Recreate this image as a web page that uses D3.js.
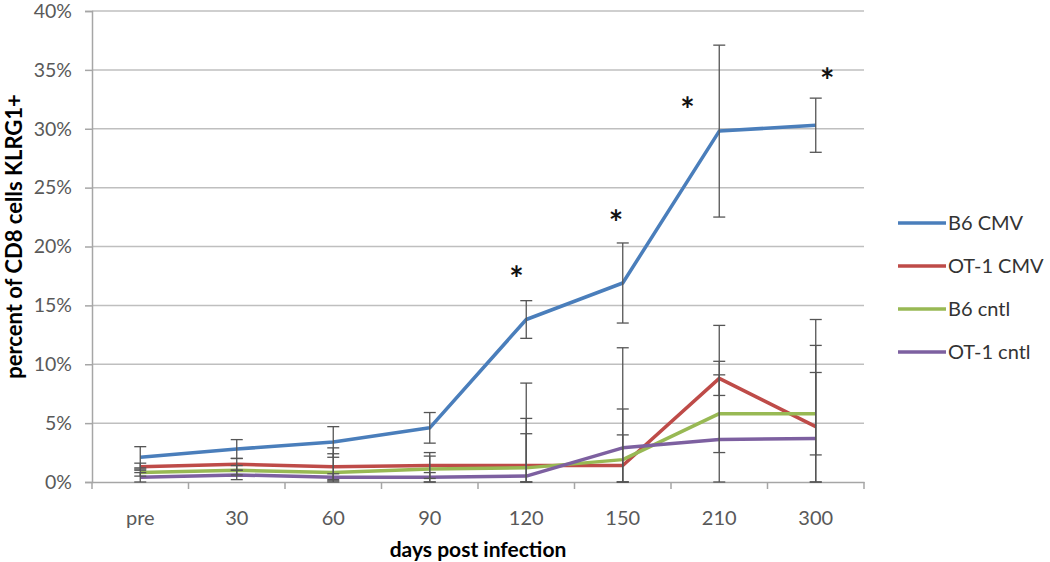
<!DOCTYPE html>
<html>
<head>
<meta charset="utf-8">
<script src="https://cdn.jsdelivr.net/npm/d3@7"></script>
<style>
  html, body { margin: 0; padding: 0; background: #fff; }
  svg { display: block; }
  text { font-family: Lato, "Open Sans", sans-serif; }
</style>
</head>
<body>
<svg id="chart" width="1050" height="562"></svg>
<script>
// ---- data ----
const categories = ["pre", "30", "60", "90", "120", "150", "210", "300"];
const seriesNames = ["B6 CMV", "OT-1 CMV", "B6 cntl", "OT-1 cntl"];
const seriesColors = ["#4A7EBB", "#BE4B48", "#98B954", "#7D60A0"];

const b6Cmv    = [2.1, 2.8, 3.4, 4.6, 13.8, 16.9, 29.8, 30.3];
const ot1Cmv   = [1.3, 1.5, 1.3, 1.4, 1.4, 1.4, 8.8, 4.7];
const b6Cntl   = [0.8, 1.0, 0.8, 1.1, 1.2, 1.9, 5.8, 5.8];
const ot1Cntl  = [0.4, 0.6, 0.4, 0.4, 0.5, 2.9, 3.6, 3.7];

const b6CmvErr   = [0.9, 0.8, 1.3, 1.3, 1.6, 3.4, 7.3, 2.3];
const ot1CmvErr  = [0.3, 0.5, 1.1, 1.1, 7.0, 10.0, 1.45, 6.9];
const b6CntlErr  = [0.3, 0.4, 2.1, 1.1, 4.2, 2.1, 3.3, 3.5];
const ot1CntlErr = [0.4, 0.4, 0.3, 0.4, 3.6, 3.3, 9.7, 10.1];

const yTicks = [0, 5, 10, 15, 20, 25, 30, 35, 40];

// significance markers (category, value in %, shift as fraction of category width)
const sigCats   = ["120", "150", "210", "300"];
const sigValues = [17.9, 22.7, 32.3, 34.7];
const sigShift  = [-0.1, -0.07, -0.33, 0.12];

const seriesValues = [b6Cmv, ot1Cmv, b6Cntl, ot1Cntl];
const seriesErrors = [b6CmvErr, ot1CmvErr, b6CntlErr, ot1CntlErr];

(function () {
// ---- layout ----
const svg = d3.select("#chart");
const mLeft = 92, mRight = 864, mTop = 11, mBottom = 482;

const x = d3.scaleBand().domain(categories).range([mLeft, mRight]).padding(0);
const y = d3.scaleLinear().domain([0, 40]).range([mBottom, mTop]);
const cx = c => x(c) + x.bandwidth() / 2;

const gridColor = "#BFBFBF";
const axisColor = "#A6A6A6";
const textColor = "#595959";

// gridlines
svg.append("g").selectAll("line").data(yTicks.filter(d => d > 0)).join("line")
  .attr("x1", mLeft).attr("x2", mRight)
  .attr("y1", d => y(d)).attr("y2", d => y(d))
  .attr("stroke", gridColor).attr("stroke-width", 1.5);

// y axis
const yAxis = svg.append("g").attr("transform", `translate(${mLeft},0)`)
  .call(d3.axisLeft(y).tickValues(yTicks).tickFormat(d => d + "%").tickSize(7).tickPadding(13));
yAxis.select(".domain").attr("stroke", axisColor).attr("stroke-width", 1.5);
yAxis.selectAll(".tick line").attr("stroke", axisColor).attr("stroke-width", 1.5);
yAxis.selectAll(".tick text").attr("fill", textColor).attr("font-size", 19.5).attr("font-family", "Lato, sans-serif");

// x axis
const xAxis = svg.append("g").attr("transform", `translate(0,${mBottom})`)
  .call(d3.axisBottom(x).tickSize(0).tickPadding(29));
xAxis.select(".domain").attr("stroke", axisColor).attr("stroke-width", 1.5);
xAxis.selectAll(".tick text").attr("fill", textColor).attr("font-size", 20).attr("font-family", "Lato, sans-serif");
// tick marks at category boundaries
const bounds = categories.map(c => x(c)).concat([mRight]);
svg.append("g").selectAll("line").data(bounds).join("line")
  .attr("x1", d => d).attr("x2", d => d)
  .attr("y1", mBottom).attr("y2", mBottom + 7)
  .attr("stroke", axisColor).attr("stroke-width", 1.5);

// lines
const line = d3.line().x((d, i) => cx(categories[i])).y(d => y(d));
seriesValues.forEach((vals, s) => {
  svg.append("path").datum(vals)
    .attr("d", line)
    .attr("fill", "none")
    .attr("stroke", seriesColors[s])
    .attr("stroke-width", 3.5)
    .attr("stroke-linejoin", "round");
});

// error bars
const capW = 6;
const errG = svg.append("g").attr("stroke", "#555").attr("stroke-width", 1.3).attr("fill", "none");
seriesValues.forEach((vals, s) => {
  vals.forEach((v, i) => {
    const e = seriesErrors[s][i];
    const hi = v + e, lo = Math.max(0, v - e);
    const px = cx(categories[i]);
    errG.append("line").attr("x1", px).attr("x2", px).attr("y1", y(hi)).attr("y2", y(lo));
    errG.append("line").attr("x1", px - capW).attr("x2", px + capW).attr("y1", y(hi)).attr("y2", y(hi));
    errG.append("line").attr("x1", px - capW).attr("x2", px + capW).attr("y1", y(lo)).attr("y2", y(lo));
  });
});

// significance asterisks
sigCats.forEach((c, i) => {
  svg.append("text")
    .attr("x", cx(c) + sigShift[i] * x.bandwidth())
    .attr("y", y(sigValues[i]) + 20)
    .attr("text-anchor", "middle")
    .attr("font-family", "Liberation Sans, Arial, sans-serif")
    .attr("font-weight", "bold")
    .attr("font-size", 34)
    .attr("fill", "#111")
    .text("*");
});

// axis titles
svg.append("text")
  .attr("x", (mLeft + mRight) / 2).attr("y", 557)
  .attr("text-anchor", "middle")
  .attr("font-size", 21).attr("font-weight", "bold").attr("fill", "#000")
  .text("days post infection");

svg.append("text")
  .attr("transform", `translate(22,${(mTop + mBottom) / 2 - 10}) rotate(-90)`)
  .attr("text-anchor", "middle")
  .attr("font-size", 22).attr("font-weight", "bold").attr("fill", "#000")
  .text("percent of CD8 cells KLRG1+");

// legend
const legend = svg.append("g").attr("transform", "translate(898,223)");
seriesNames.forEach((n, i) => {
  const g = legend.append("g").attr("transform", `translate(0,${i * 43})`);
  g.append("line").attr("x1", 0).attr("x2", 48).attr("y1", 0).attr("y2", 0)
    .attr("stroke", seriesColors[i]).attr("stroke-width", 3.5);
  g.append("text").attr("x", 50).attr("y", 0).attr("dy", "0.36em")
    .attr("font-size", 20).attr("fill", "#333").text(n);
});
})();
</script>
</body>
</html>
